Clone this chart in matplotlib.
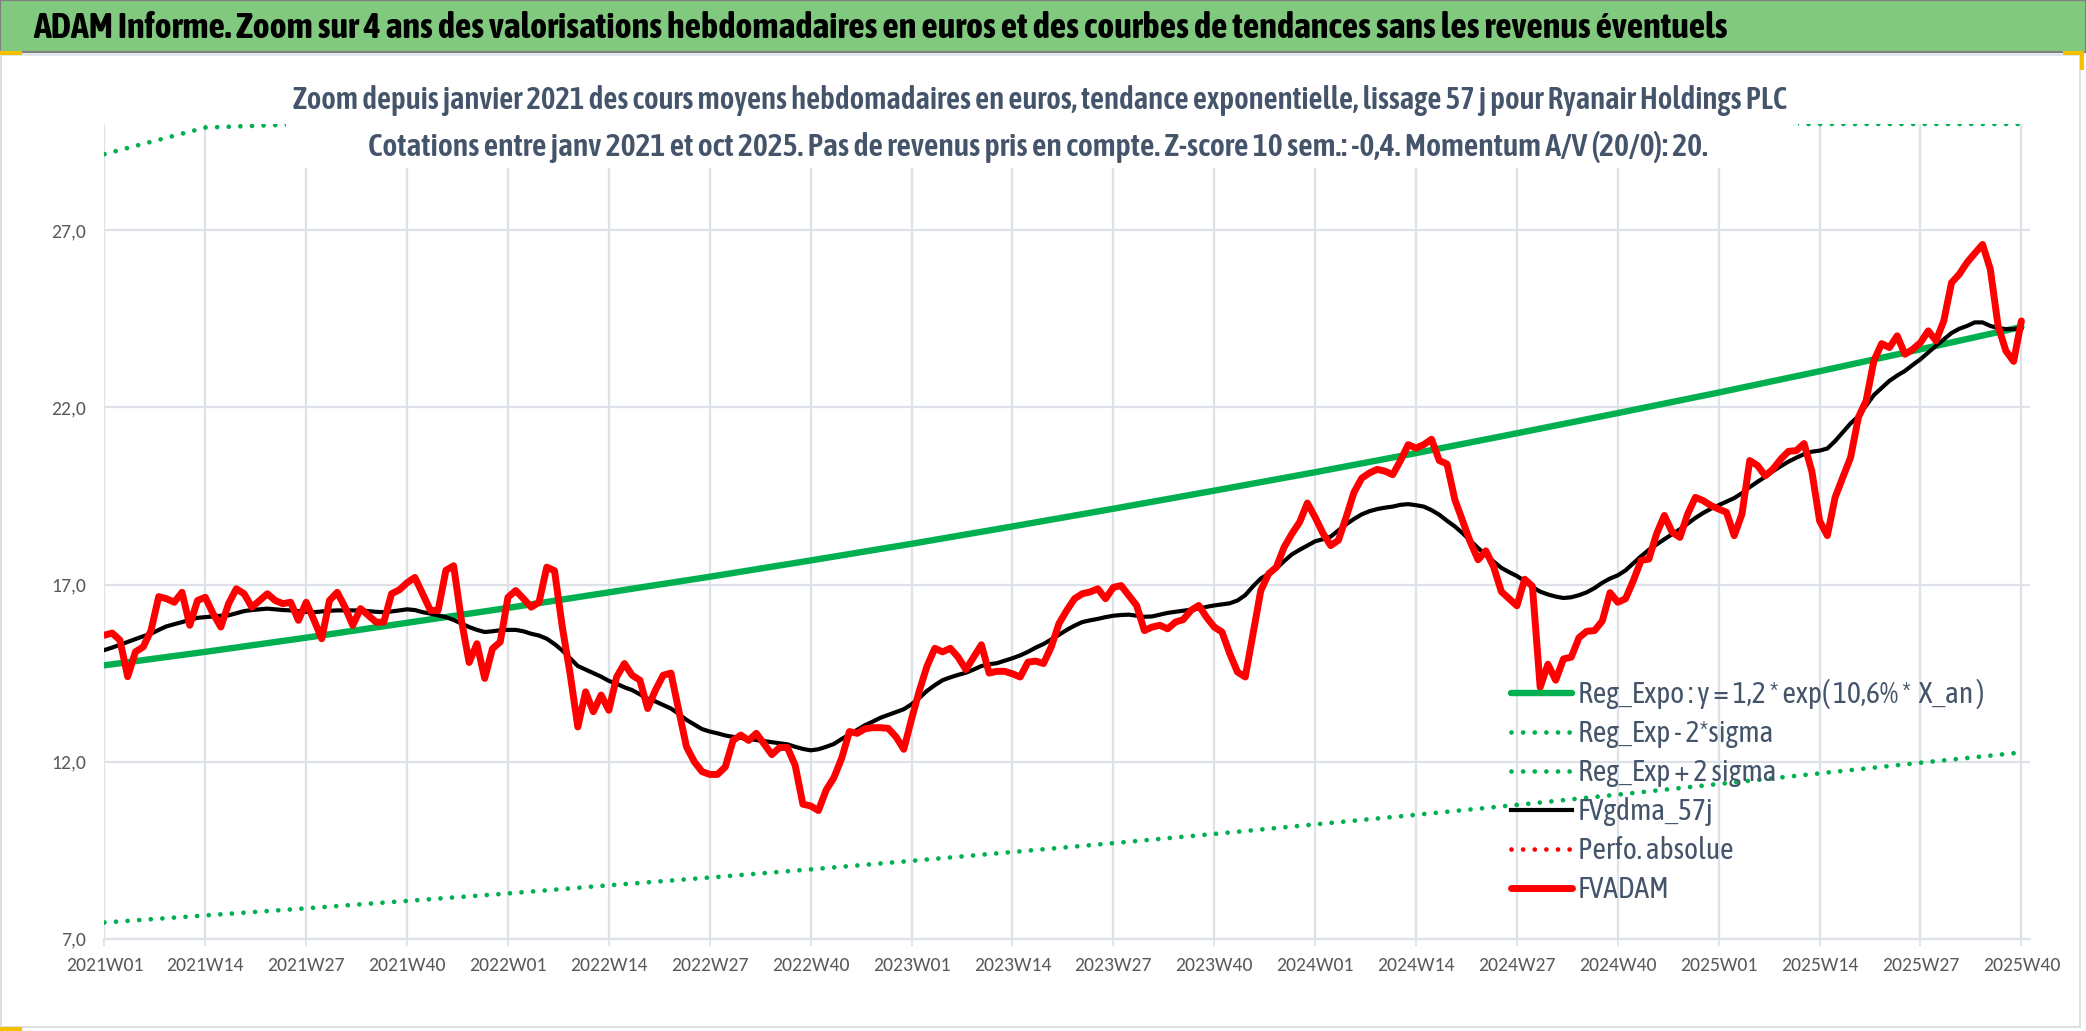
import numpy as np
import matplotlib
matplotlib.use("Agg")
import matplotlib.pyplot as plt
from matplotlib import font_manager
from matplotlib.patches import Rectangle
from matplotlib.lines import Line2D

W, H = 2086, 1031

# ---- data ------------------------------------------------------------------
years = [2021, 2022, 2023, 2024, 2025]
week_labels = [f"{y}W{w:02d}" for y in years for w in range(1, 53)][:248]

fvadam = [
    15.57, 15.63, 15.43, 14.40, 15.10, 15.24, 15.70, 16.66, 16.60, 16.50,
    16.78, 15.85, 16.55, 16.64, 16.18, 15.80, 16.46, 16.88, 16.74, 16.36,
    16.55, 16.74, 16.55, 16.46, 16.50, 15.99, 16.50, 16.00, 15.47, 16.55,
    16.78, 16.36, 15.85, 16.32, 16.13, 15.94, 15.94, 16.74, 16.85, 17.05,
    17.20, 16.74, 16.27, 16.27, 17.40, 17.53, 15.99, 14.80, 15.33, 14.35,
    15.19, 15.38, 16.64, 16.83, 16.60, 16.36, 16.50, 17.49, 17.39, 15.80,
    14.49, 12.98, 13.97, 13.41, 13.88, 13.45, 14.39, 14.77, 14.44, 14.30,
    13.50, 14.02, 14.44, 14.50, 13.45, 12.42, 12.00, 11.72, 11.64, 11.64,
    11.85, 12.60, 12.75, 12.60, 12.80, 12.50, 12.20, 12.40, 12.40, 11.90,
    10.80, 10.75, 10.62, 11.20, 11.55, 12.10, 12.85, 12.80, 12.93, 12.96,
    12.96, 12.94, 12.70, 12.35, 13.20, 14.00, 14.70, 15.20, 15.10, 15.20,
    14.95, 14.60, 14.95, 15.30, 14.50, 14.55, 14.55, 14.48, 14.39, 14.81,
    14.84, 14.77, 15.24, 15.90, 16.27, 16.60, 16.74, 16.79, 16.88, 16.60,
    16.92, 16.97, 16.69, 16.41, 15.70, 15.80, 15.85, 15.75, 15.94, 16.01,
    16.27, 16.41, 16.08, 15.80, 15.66, 15.05, 14.53, 14.39, 15.61, 16.83,
    17.30, 17.49, 18.05, 18.43, 18.76, 19.30, 18.90, 18.45, 18.10, 18.25,
    18.90, 19.60, 20.00, 20.15, 20.25, 20.20, 20.10, 20.50, 20.95, 20.85,
    20.95, 21.10, 20.50, 20.40, 19.40, 18.80, 18.20, 17.70, 17.95, 17.50,
    16.80, 16.60, 16.40, 17.15, 16.95, 14.10, 14.75, 14.30, 14.90, 14.95,
    15.50, 15.68, 15.70, 15.97, 16.77, 16.50, 16.60, 17.11, 17.68, 17.72,
    18.43, 18.95, 18.48, 18.33, 18.99, 19.46, 19.37, 19.23, 19.13, 19.04,
    18.38, 18.99, 20.50, 20.36, 20.07, 20.26, 20.54, 20.76, 20.78, 20.98,
    20.20, 18.80, 18.38, 19.46, 20.03, 20.59, 21.72, 22.19, 23.32, 23.80,
    23.69, 24.02, 23.50, 23.64, 23.83, 24.16, 23.88, 24.44, 25.52, 25.76,
    26.09, 26.35, 26.60, 25.90, 24.30, 23.60, 23.30, 24.44,
]

fvgdma_57j = [
    15.15, 15.22, 15.30, 15.38, 15.46, 15.54, 15.61, 15.72, 15.82, 15.88,
    15.94, 16.00, 16.06, 16.08, 16.10, 16.12, 16.13, 16.19, 16.25, 16.28,
    16.30, 16.32, 16.30, 16.28, 16.27, 16.25, 16.23, 16.22, 16.24, 16.26,
    16.27, 16.27, 16.27, 16.27, 16.25, 16.23, 16.22, 16.24, 16.27, 16.30,
    16.28, 16.22, 16.18, 16.13, 16.08, 16.00, 15.90, 15.80, 15.72, 15.66,
    15.68, 15.71, 15.72, 15.72, 15.68, 15.61, 15.56, 15.47, 15.32, 15.14,
    14.92, 14.70, 14.60, 14.50, 14.40, 14.28, 14.20, 14.10, 14.02, 13.90,
    13.78, 13.70, 13.60, 13.50, 13.35, 13.18, 13.05, 12.92, 12.85, 12.80,
    12.74, 12.70, 12.67, 12.64, 12.61, 12.58, 12.55, 12.52, 12.49, 12.42,
    12.36, 12.32, 12.35, 12.42, 12.50, 12.64, 12.77, 12.90, 13.03, 13.13,
    13.24, 13.32, 13.40, 13.48, 13.62, 13.80, 14.00, 14.16, 14.30, 14.38,
    14.45, 14.51, 14.60, 14.70, 14.75, 14.78, 14.85, 14.92, 15.00, 15.10,
    15.22, 15.32, 15.45, 15.58, 15.72, 15.84, 15.94, 15.99, 16.03, 16.08,
    16.12, 16.14, 16.15, 16.12, 16.09, 16.10, 16.15, 16.20, 16.23, 16.26,
    16.29, 16.32, 16.37, 16.41, 16.44, 16.47, 16.55, 16.70, 16.95, 17.17,
    17.30, 17.45, 17.66, 17.85, 17.98, 18.10, 18.22, 18.28, 18.35, 18.53,
    18.70, 18.85, 18.98, 19.07, 19.13, 19.17, 19.20, 19.25, 19.27, 19.24,
    19.20, 19.10, 18.97, 18.80, 18.64, 18.45, 18.24, 18.03, 17.83, 17.65,
    17.47, 17.35, 17.24, 17.10, 16.93, 16.80, 16.72, 16.66, 16.62, 16.64,
    16.70, 16.78, 16.90, 17.05, 17.17, 17.26, 17.40, 17.60, 17.80, 17.98,
    18.13, 18.28, 18.42, 18.56, 18.72, 18.88, 19.02, 19.14, 19.24, 19.34,
    19.44, 19.58, 19.75, 19.90, 20.04, 20.20, 20.34, 20.47, 20.58, 20.68,
    20.75, 20.78, 20.84, 21.05, 21.30, 21.55, 21.75, 22.05, 22.35, 22.55,
    22.75, 22.90, 23.03, 23.20, 23.36, 23.55, 23.74, 23.92, 24.10, 24.22,
    24.30, 24.40, 24.40, 24.30, 24.24, 24.21, 24.21, 24.24,
]

# trend curves read at every tick (every 13 weeks)
tick_labels = week_labels[::13]
reg_expo = [14.72, 15.10, 15.50, 15.92, 16.34, 16.78, 17.22, 17.68, 18.15, 18.64,
            19.14, 19.65, 20.17, 20.71, 21.27, 21.84, 22.42, 23.02, 23.64, 24.27]
reg_low = [7.46, 7.66, 7.86, 8.07, 8.28, 8.51, 8.73, 8.96, 9.20, 9.45,
           9.70, 9.96, 10.23, 10.50, 10.78, 11.07, 11.37, 11.67, 11.97, 12.26]
reg_high = [29.15, 29.90, 30.70, 31.50, 32.40, 33.20, 34.10, 35.00, 35.90, 36.90,
            37.90, 38.90, 39.90, 41.00, 42.10, 43.20, 44.40, 45.60, 46.80, 48.10]
y_ticks = [7, 12, 17, 22, 27]

TITLE = ("ADAM Informe. Zoom sur 4 ans des valorisations hebdomadaires en euros "
         "et des courbes de tendances sans les revenus éventuels")
SUB1 = ("Zoom depuis janvier 2021 des cours moyens hebdomadaires en euros, "
        "tendance exponentielle, lissage 57 j pour Ryanair Holdings PLC")
SUB2 = ("Cotations entre janv 2021 et oct 2025. Pas de revenus pris en compte. "
        "Z-score 10 sem.: -0,4. Momentum A/V (20/0): 20.")
LEGEND_LABELS = ["Reg_Expo : y = 1,2 * exp( 10,6% *  X_an )", "Reg_Exp - 2*sigma",
                 "Reg_Exp + 2 sigma", "FVgdma_57j", "Perfo. absolue", "FVADAM"]

# ---- style ---------------------------------------------------------------
GREEN = "#00B050"
RED = "#FF0000"
BAR_GREEN = "#80C97F"
GRID = "#DDE1E8"
TICK_INK = "#595959"
SLATE = "#44546A"
YELLOW = "#F5C000"

available = {f.name for f in font_manager.fontManager.ttflist}


def pick(cands):
    for c in cands:
        if c in available:
            return c
    return "DejaVu Sans"


NARROW = pick(["Asap Condensed", "Barlow Semi Condensed", "Archivo Narrow"])
TICKFONT = pick(["Carlito", "Lato"])

Y_MIN, Y_MAX = 7.0, 30.0
PX_LEFT, PX_RIGHT = 104.4, 2030.0
PX_TOP, PX_BOTTOM = 124.0, 938.8
PX_PER_WEEK = 7.761


def fx(px):
    return px / W


def fy(py):
    return 1 - py / H


fig = plt.figure(figsize=(W / 100, H / 100), dpi=100)
fig.patch.set_facecolor("white")
renderer = fig.canvas.get_renderer()


def fit_width(txt, width_px):
    bb = txt.get_window_extent(renderer)
    txt.set_fontsize(txt.get_fontsize() * width_px / bb.width)
    return txt.get_fontsize()


ax = fig.add_axes([fx(PX_LEFT), fy(PX_BOTTOM), fx(PX_RIGHT - PX_LEFT),
                   (PX_BOTTOM - PX_TOP) / H])
ax.set_facecolor("white")

weeks = np.arange(len(fvadam))
trend_weeks = weeks[::13]

ax.set_xlim(0, (PX_RIGHT - PX_LEFT) / PX_PER_WEEK)
ax.set_ylim(Y_MIN, Y_MAX)

# round dots roughly 5 px wide every ~11.5 px, like the Excel "round dot" dash
dots = (0, (0.01, 2.45))
DOT_LW = 3.4
l_expo, = ax.plot(trend_weeks, reg_expo, color=GREEN, lw=4.6, solid_capstyle="round", zorder=3)
l_low, = ax.plot(trend_weeks, reg_low, color=GREEN, lw=DOT_LW, linestyle=dots,
                 dash_capstyle="round", zorder=3)
l_high, = ax.plot(trend_weeks, np.minimum(reg_high, Y_MAX), color=GREEN, lw=DOT_LW,
                  linestyle=dots, dash_capstyle="round", zorder=3)
l_gdma, = ax.plot(weeks, fvgdma_57j, color="black", lw=3.0, solid_joinstyle="round", zorder=4)
l_perf = Line2D([], [], color=RED, lw=DOT_LW, linestyle=dots, dash_capstyle="round")
l_adam, = ax.plot(weeks, fvadam, color=RED, lw=5.0, solid_joinstyle="round",
                  solid_capstyle="round", zorder=5)

# tick label size: "2021W01" is about 77 px wide in the reference
probe = fig.text(0, 0, tick_labels[0], fontsize=12, family=TICKFONT)
tick_fs = fit_width(probe, 77)
probe.remove()

ax.set_xticks(trend_weeks)
ax.set_xticklabels(tick_labels, family=TICKFONT)
ax.set_yticks(y_ticks)
ax.set_yticklabels([f"{v:.1f}".replace(".", ",") for v in y_ticks], family=TICKFONT)
ax.grid(True, color=GRID, lw=1.6, zorder=0)
ax.set_axisbelow(True)
for s in ("top", "right", "left"):
    ax.spines[s].set_visible(False)
ax.spines["bottom"].set_color(GRID)
ax.spines["bottom"].set_linewidth(1.6)
ax.tick_params(axis="x", length=5, width=1.2, color=GRID, pad=8,
               labelsize=tick_fs, labelcolor=TICK_INK)
ax.tick_params(axis="y", length=0, pad=13, labelsize=tick_fs, labelcolor=TICK_INK)

# ---- frame, title bar, subtitles ------------------------------------------
fig.add_artist(Rectangle((fx(0.5), fy(1027)), fx(2079.5), (1027 - 55) / H,
                         transform=fig.transFigure, facecolor="none",
                         edgecolor="#D9D9D9", lw=1.2, zorder=-1))
fig.add_artist(Rectangle((0, fy(52)), 1, 52 / H, transform=fig.transFigure,
                         facecolor=BAR_GREEN, edgecolor="#7F7F7F", lw=1.5, zorder=1))
fig.add_artist(Rectangle((0, fy(56)), fx(2080), 3 / H, transform=fig.transFigure,
                         facecolor="#E3E6EC", edgecolor="none", zorder=1))
for (x0, y0, x1, y1) in [(0, 51, 22, 55), (2063, 51, 2084, 55), (2080, 51, 2084, 70),
                         (0, 1027, 22, 1031)]:
    fig.add_artist(Rectangle((fx(x0), fy(y1)), fx(x1 - x0), (y1 - y0) / H,
                             transform=fig.transFigure, facecolor=YELLOW,
                             edgecolor="none", zorder=2))
# white box behind the chart subtitle (hides the clipped upper band)
fig.add_artist(Rectangle((fx(286), fy(168)), fx(1798 - 286), (168 - 62) / H,
                         transform=fig.transFigure, facecolor="white",
                         edgecolor="none", zorder=5))

title = fig.text(fx(33), fy(28), TITLE, ha="left", va="center", fontsize=24,
                 fontweight="bold", family=NARROW, color="black", zorder=6)
fit_width(title, 1695)
sub1 = fig.text(fx(1040), fy(101), SUB1, ha="center", va="center", fontsize=20,
                fontweight=600, family=NARROW, color=SLATE, zorder=6)
fit_width(sub1, 1494)
sub2 = fig.text(fx(1038), fy(147), SUB2, ha="center", va="center", fontsize=20,
                fontweight=600, family=NARROW, color=SLATE, zorder=6)
fit_width(sub2, 1339)

# ---- legend ----------------------------------------------------------------
handles = [l_expo, l_low, l_high, l_gdma, l_perf, l_adam]
probe = fig.text(0, 0, LEGEND_LABELS[0], fontsize=18, family=NARROW)
leg_fs = fit_width(probe, 408)
row_px = probe.get_window_extent(renderer).height
probe.remove()
fs_px = leg_fs * 100 / 72
leg = ax.legend(handles, LEGEND_LABELS, loc="upper left", frameon=False,
                bbox_to_anchor=(fx(1511), fy(694 - row_px / 2)),
                bbox_transform=fig.transFigure, borderpad=0, borderaxespad=0,
                handlelength=61 / fs_px, handletextpad=6 / fs_px,
                labelspacing=(40 - row_px) / fs_px,
                prop={"family": NARROW, "size": leg_fs})
for t in leg.get_texts():
    t.set_color(SLATE)
leg.set_zorder(6)

fig.savefig("out.png", dpi=100, facecolor="white")
